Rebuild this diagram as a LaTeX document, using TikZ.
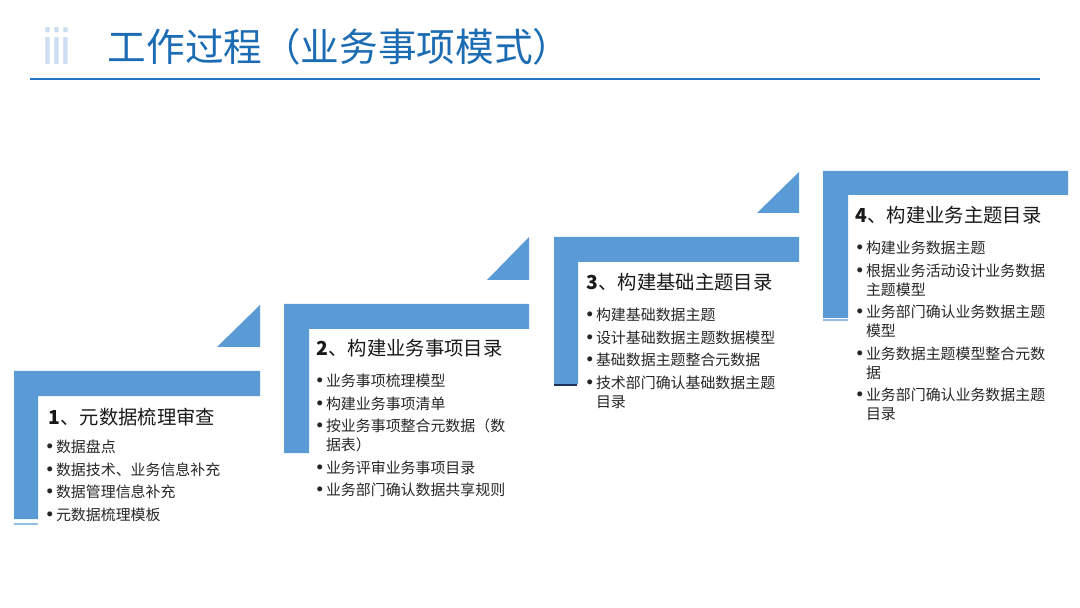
\documentclass[tikz,border=0pt]{standalone}
\usepackage{fontspec}
\usepackage{graphicx}
\usepackage{tikz}
\newfontfamily\cjk{Noto Sans CJK SC}
\newfontfamily\latinsans{Liberation Sans}
\definecolor{stepblue}{RGB}{91, 155, 213}
\definecolor{titleblue}{RGB}{28, 108, 180}
\definecolor{ruleblue}{RGB}{34, 117, 190}
\definecolor{iiiblue}{RGB}{205, 222, 242}
\definecolor{seamblue}{RGB}{150, 190, 228}
\definecolor{seamdark}{RGB}{30, 50, 90}
% bullet item and its second line
\newcommand\stepitem[1]{\makebox[5.3pt][l]{\latinsans\fontsize{10.5pt}{10.8pt}\selectfont\textbullet}#1}
\newcommand\stepcont[1]{\hspace*{5.3pt}#1}
\tikzset{
  % L-shaped bar of a step
  stepbar/.style={fill=stepblue, draw=none},
  % small triangle above a step
  steptri/.style={fill=stepblue, draw=none},
  % thin line under a bar
  seam/.style={line width=0.6pt},
  % texts
  titletext/.style={font=\cjk\fontsize{22pt}{24pt}\selectfont, text=titleblue, inner sep=0, anchor=west},
  iiitext/.style={font=\latinsans\bfseries\fontsize{29pt}{30pt}\selectfont, text=iiiblue, inner sep=0, anchor=west},
  stephead/.style={font=\cjk\fontsize{11pt}{13pt}\selectfont, text=black!90, inner sep=0, anchor=west},
  steplist/.style={font=\cjk\fontsize{8.5pt}{10.8pt}\selectfont, text=black!85, inner sep=0, anchor=north west, align=left},
  every picture/.style=thick
}
\begin{document}
\begin{tikzpicture}[x=0.02cm, y=-0.02cm]
\useasboundingbox (0,0) rectangle (1080,608);
           % title
           \node[iiitext] (iii) at (43,46) {\scalebox{0.63}[1]{iii}};
           \node[titletext] (title) at (107,47) {工作过程（业务事项模式）};
           \draw[ruleblue, line width=1.4pt] (30,79) -- (1040,79);
           %%%%%%%%%%%%%%%%%%%%%%%%%%%%%%%%%%%%%%%
           \fill[stepbar] (14,371) -- (260,371) -- (260,396) -- (38,396) -- (38,519) -- (14,519) -- cycle;
           \fill[steptri] (217,347) -- (260,347) -- (260,305) -- cycle;
           \draw[seam, seamblue] (14,524) -- (38,524);
           \node[stephead] (s1head) at (48,417) {\textbf{1}、元数据梳理审查};
           \node[steplist] (s1list) at (46,439.5) {\stepitem{数据盘点}\\[2pt]
             \stepitem{数据技术、业务信息补充}\\[2pt]
             \stepitem{数据管理信息补充}\\[2pt]
             \stepitem{元数据梳理模板}};
           %%%%%%%%%%%%%%%%%%%%%%%%%%%%%%%%%%%%%%%
           \fill[stepbar] (284,304) -- (529,304) -- (529,329) -- (309,329) -- (309,453) -- (284,453) -- cycle;
           \fill[steptri] (487,280) -- (529,280) -- (529,237) -- cycle;
           \node[stephead] (s2head) at (316,348) {\textbf{2}、构建业务事项目录};
           \node[steplist] (s2list) at (316,373.5) {\stepitem{业务事项梳理模型}\\[2pt]
             \stepitem{构建业务事项清单}\\[2pt]
             \stepitem{按业务事项整合元数据（数}\\
             \stepcont{据表）}\\[2pt]
             \stepitem{业务评审业务事项目录}\\[2pt]
             \stepitem{业务部门确认数据共享规则}};
           %%%%%%%%%%%%%%%%%%%%%%%%%%%%%%%%%%%%%%%
           \fill[stepbar] (554,237) -- (799,237) -- (799,262) -- (578,262) -- (578,384) -- (554,384) -- cycle;
           \fill[steptri] (757,213) -- (799,213) -- (799,172) -- cycle;
           \draw[seam, seamdark] (554,385) -- (577,385);
           \node[stephead] (s3head) at (586,282) {\textbf{3}、构建基础主题目录};
           \node[steplist] (s3list) at (586,307.5) {\stepitem{构建基础数据主题}\\[2pt]
             \stepitem{设计基础数据主题数据模型}\\[2pt]
             \stepitem{基础数据主题整合元数据}\\[2pt]
             \stepitem{技术部门确认基础数据主题}\\
             \stepcont{目录}};
           %%%%%%%%%%%%%%%%%%%%%%%%%%%%%%%%%%%%%%%
           \fill[stepbar] (823,171) -- (1068,171) -- (1068,195) -- (848,195) -- (848,318) -- (823,318) -- cycle;
           \draw[seam, seamblue] (823,320) -- (848,320);
           \node[stephead] (s4head) at (855,215) {\textbf{4}、构建业务主题目录};
           \node[steplist] (s4list) at (856,240.5) {\stepitem{构建业务数据主题}\\[2pt]
             \stepitem{根据业务活动设计业务数据}\\
             \stepcont{主题模型}\\[2pt]
             \stepitem{业务部门确认业务数据主题}\\
             \stepcont{模型}\\[2pt]
             \stepitem{业务数据主题模型整合元数}\\
             \stepcont{据}\\[2pt]
             \stepitem{业务部门确认业务数据主题}\\
             \stepcont{目录}};
\end{tikzpicture}
\end{document}
